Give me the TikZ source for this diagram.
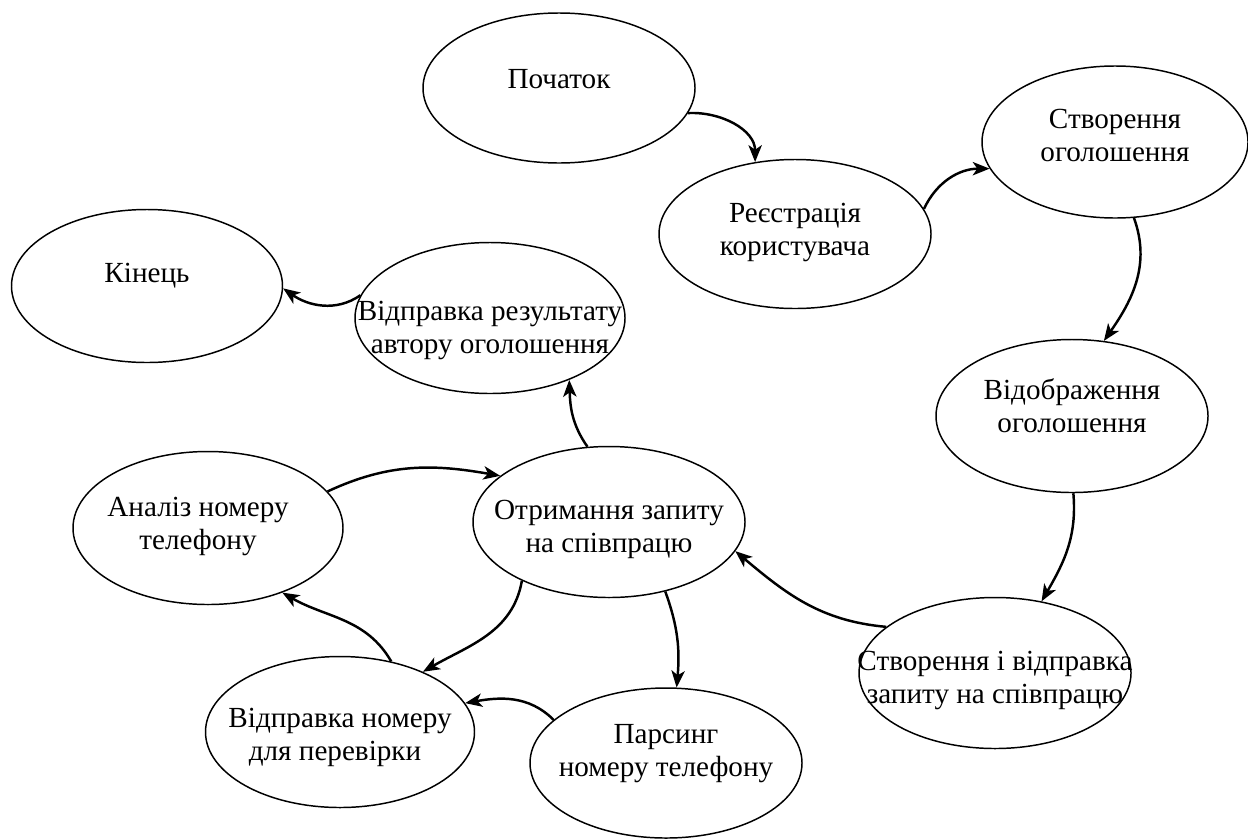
\documentclass[tikz,border=0pt]{standalone}
\usepackage{fontspec}
\setmainfont{Liberation Serif}
\usetikzlibrary{shapes.geometric}
\usetikzlibrary{arrows.meta}
\newcommand{\etap}[2][0pt]{\makebox[0pt]{\smash{\raisebox{#1}{\begin{tabular}{@{}c@{}}#2\end{tabular}}}}}

\begin{document}
\begin{tikzpicture}[>={Stealth[length=4.8pt,width=3.8pt,inset=1.3pt]},
etap/.style={ellipse,draw=black,line width=0.42pt,inner sep=0pt,minimum width=2.72cm,minimum height=1.51cm,
font=\fontsize{8.3}{9.4}\selectfont,
}]
\useasboundingbox (0,0) rectangle (12.48,8.39);
\node[etap, minimum height=1.50cm](pochatok) at (5.59,7.51){\etap[-0.4pt]{Початок}};
\node[etap, minimum height=1.49cm](reyestr) at (7.95,6.05){\etap[-1.5pt]{Реєстрація\\користувача}};
\node[etap, minimum width=2.66cm, minimum height=1.52cm](stvor) at (11.15,6.97){\etap[-1pt]{Створення\\оголошення}};
\node[etap, minimum height=1.53cm](vidobr) at (10.72,4.23){\etap{Відображення\\оголошення}};
\node[etap](zapyt) at (9.95,1.66){\etap[-4pt]{Створення і відправка\\запиту на співпрацю}};
\node[etap](otrym) at (6.09,3.17){\etap[-4.2pt]{Отримання запиту\\на співпрацю}};
\node[etap, minimum width=2.70cm](rezult) at (4.90,5.21){\etap[-5.4pt]{Відправка результату\\автору оголошення}};
\node[etap, minimum width=2.71cm, minimum height=1.53cm](kinets) at (1.47,5.53){\etap[1pt]{Кінець}};
\node[etap, minimum width=2.70cm, minimum height=1.53cm](analiz) at (2.08,3.11){\etap[-1.5pt]{Аналіз номеру\hspace*{0.2cm}\\телефону\hspace*{0.2cm}}};
\node[etap, minimum width=2.69cm](vidpr) at (3.40,1.07){\etap[-3.4pt]{Відправка номеру\\для перевірки\hspace*{0.1cm}}};
\node[etap, minimum height=1.50cm](parsyng) at (6.66,0.76){\etap[0.7pt]{Парсинг\\номеру телефону}};
\begin{scope}[->, line width=0.7pt]
 \draw (pochatok.-11) to[out=3, in=90] (reyestr.119);
 \draw (reyestr.11) to[out=65, in=180] (stvor.192);
 \draw (stvor.-76) to[out=-70, in=55] (vidobr.67);
 \draw (vidobr.-89) to[out=-85, in=60] (zapyt.57);
 \draw (zapyt.157) to[out=175, in=-40] (otrym.-13);
 \draw (otrym.106) to[out=125, in=-88] (rezult.-38);
 \draw (rezult.170) to[out=215, in=-35] (kinets.-1);
 \draw (analiz.17) to[out=25, in=170] (otrym.157);
 \draw (otrym.214) to[out=-100, in=30] (vidpr.36);
 \draw (otrym.-51) to[out=-70, in=85] (parsyng.82);
 \draw (parsyng.159) to[out=135, in=10] (vidpr.13);
 \draw (vidpr.54) to[out=120, in=-30] (analiz.-41);
\end{scope}
\end{tikzpicture}
\end{document}
